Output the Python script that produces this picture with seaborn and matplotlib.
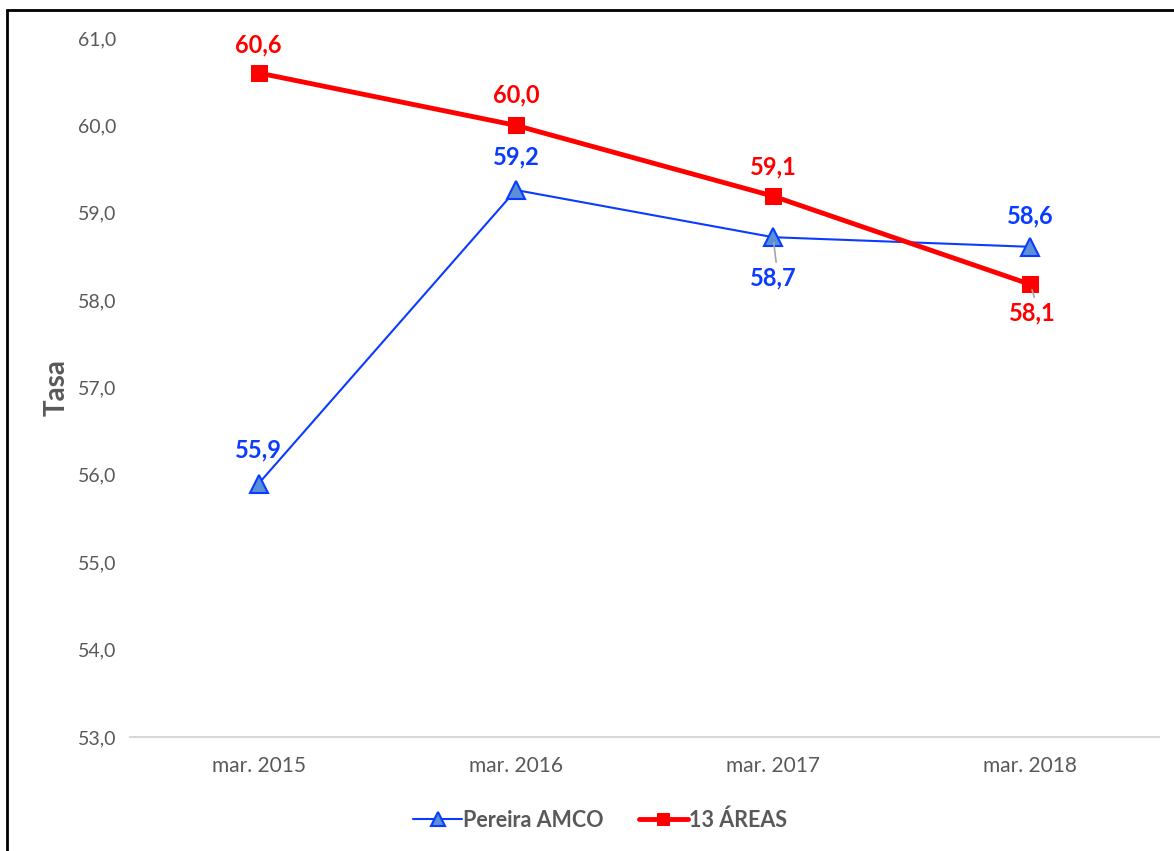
import matplotlib
matplotlib.use("Agg")
import matplotlib.pyplot as plt
import matplotlib.patches as mpatches
import seaborn as sns
import pandas as pd

categories = ["mar. 2015", "mar. 2016", "mar. 2017", "mar. 2018"]
pereira_vals = [55.9, 59.26, 58.72, 58.61]
pereira_labels = ["55,9", "59,2", "58,7", "58,6"]
areas_vals = [60.6, 60.0, 59.19, 58.18]
areas_labels = ["60,6", "60,0", "59,1", "58,1"]
yticks = [53, 54, 55, 56, 57, 58, 59, 60, 61]

sns.set_theme(style="white")
plt.rcParams["font.family"] = ["Lato", "DejaVu Sans"]

fig = plt.figure(figsize=(11.74, 8.51), dpi=100)
ax = fig.add_axes([130/1174, 1-737/851, (1159-130)/1174, (737-38)/851])

df_p = pd.DataFrame({"x": categories, "y": pereira_vals})
df_a = pd.DataFrame({"x": categories, "y": areas_vals})

blue = "#0a3cff"
red = "#ff0000"
sns.lineplot(data=df_p, x="x", y="y", ax=ax, color=blue, lw=1.5, marker="^",
             markersize=13, markerfacecolor="#5b8fd6", markeredgecolor=blue,
             markeredgewidth=1.5, label="Pereira AMCO", sort=False)
sns.lineplot(data=df_a, x="x", y="y", ax=ax, color=red, lw=3.5, marker="s",
             markersize=11, markerfacecolor=red, markeredgecolor=red,
             label="13 ÁREAS", sort=False)

ax.set_xlim(-0.5, 3.5)
ax.set_ylim(53, 61)
ax.set_yticks(yticks)
ax.set_yticklabels([f"{v:.1f}".replace(".", ",") for v in yticks])
for s in ["top", "right", "left"]:
    ax.spines[s].set_visible(False)
ax.spines["bottom"].set_color("#d9d9d9")
ax.spines["bottom"].set_linewidth(1.5)
ax.tick_params(axis="both", length=0, labelcolor="#595959")
ax.tick_params(axis="x", pad=14, labelsize=15)
ax.tick_params(axis="y", pad=37.5, labelsize=14)
for t in ax.get_yticklabels():
    t.set_horizontalalignment("left")
ax.set_xlabel("")
ax.set_ylabel("Tasa", fontsize=20, fontweight="bold", color="#595959")
ax.yaxis.set_label_coords((70 - 130) / 1029, (737 - 388) / 699)

# data labels (offsets in pixels)
p_off = [(0, 34), (0, 33), (0, -41), (0, 31)]
a_off = [(0, 28), (0, 30), (0, 29), (2, -29)]
for i, (v, lab) in enumerate(zip(pereira_vals, pereira_labels)):
    ax.annotate(lab, (i, v), xytext=p_off[i], textcoords="offset pixels",
                ha="center", va="center", fontsize=17, fontweight="bold", color=blue)
for i, (v, lab) in enumerate(zip(areas_vals, areas_labels)):
    ax.annotate(lab, (i, v), xytext=a_off[i], textcoords="offset pixels",
                ha="center", va="center", fontsize=17, fontweight="bold", color=red)

# leader lines
ax.annotate("", xy=(2, pereira_vals[2]), xytext=(3, -25), textcoords="offset pixels",
            xycoords="data", arrowprops=dict(arrowstyle="-", color="#a6a6a6", lw=1.2,
                                             shrinkA=0, shrinkB=4))
ax.annotate("", xy=(3, areas_vals[3]), xytext=(4, -13), textcoords="offset pixels",
            arrowprops=dict(arrowstyle="-", color="#a6a6a6", lw=1.2, shrinkA=0, shrinkB=4))

leg = ax.legend(loc="center", bbox_to_anchor=(600/1174, 1-820/851),
                bbox_transform=fig.transFigure, ncol=2, frameon=False,
                prop={"size": 15.5, "weight": "bold"}, handlelength=2.3,
                columnspacing=1.6, handletextpad=0.05, markerscale=0.8)
for t in leg.get_texts():
    t.set_color("#595959")

fig.patches.append(mpatches.Rectangle((7/1174, -0.1), 1.2, 1.1 - 10/851,
                                      transform=fig.transFigure, fill=False,
                                      edgecolor="black", lw=2, figure=fig))

fig.savefig("out.png", dpi=100)
